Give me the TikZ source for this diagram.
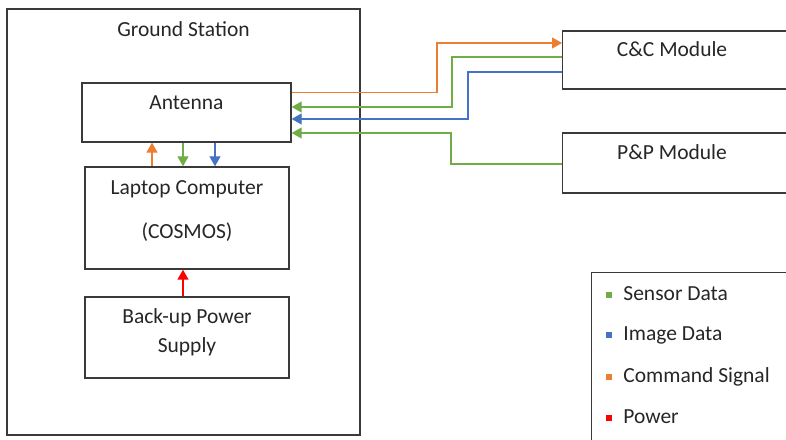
\documentclass[tikz,border=0pt]{standalone}
\usepackage{fontspec}
\setmainfont{Carlito}
\usetikzlibrary{positioning, arrows.meta}
\definecolor{sensorgreen}{HTML}{70AD47}
\definecolor{imageblue}{HTML}{4472C4}
\definecolor{cmdorange}{HTML}{ED7D31}
\definecolor{powerred}{HTML}{FF0000}
\definecolor{boxgray}{HTML}{3A3A3A}

\tikzset{
  block/.style={draw=boxgray, line width=0.65pt, rectangle, inner sep=0pt},
  lbl/.style={font=\fontsize{10.75}{12.9}\selectfont, text=black!85, anchor=base, inner sep=0pt},
  keylbl/.style={lbl, anchor=base west},
  keybox/.style={rectangle, inner sep=0pt, minimum size=3.1pt},
  link/.style={line width=0.6pt, >={Triangle[length=5pt,width=5.5pt]}}
}

\begin{document}
\begin{tikzpicture}[x=0.5pt,y=-0.5pt]
    \useasboundingbox (0,0) rectangle (786,439);
    \clip (0,0) rectangle (786,439);
    % Add the blocks
    \node[block,
          minimum width=176.5pt,
          minimum height=213pt
          ] (gs) at (183.5,222) {};
    \node[block,
          minimum width=104.5pt,
          minimum height=29.5pt
          ] (ant) at (186.5,112.5) {};
    \node[block,
          minimum width=102pt,
          minimum height=51pt
          ] (pc) at (187,218) {};
    \node[block,
          minimum width=102pt,
          minimum height=40.5pt
          ] (ups) at (187,337.5) {};
    \node[block,
          anchor=west,
          minimum width=130pt,
          minimum height=29pt
          ] (cc) at (562,60) {};
    \node[block,
          anchor=west,
          minimum width=130pt,
          minimum height=30pt
          ] (pp) at (562,163) {};
    \node[block,
          anchor=north west,
          minimum width=110pt,
          minimum height=100pt
          ] (legend) at (591,272) {};

    % Add the labels
    \node[lbl] (gslbl) at ([yshift=-14.15pt]gs.north) {Ground Station};
    \node[lbl] (antlbl) at ([yshift=-13.5pt]ant.north) {Antenna};
    \node[lbl] (pclbl) at ([yshift=-14pt]pc.north) {Laptop Computer};
    \node[lbl] (pclbl2) at ([yshift=-36pt]pc.north) {(COSMOS)};
    \node[lbl] (upslbl) at ([yshift=-13.5pt]ups.north) {Back-up Power};
    \node[lbl] (upslbl2) at ([yshift=-28pt]ups.north) {Supply};
    \node[lbl] (cclbl) at ([xshift=55pt,yshift=-13pt]cc.north west) {C\&C Module};
    \node[lbl] (pplbl) at ([xshift=55pt,yshift=-13.5pt]pp.north west) {P\&P Module};

    % Legend
    \node[keybox, fill=sensorgreen] (k1) at (609,295) {};
    \node[keylbl] (k1lbl) at (623,300) {Sensor Data};
    \node[keybox, fill=imageblue] (k2) at (609,335) {};
    \node[keylbl] (k2lbl) at (623,340) {Image Data};
    \node[keybox, fill=cmdorange] (k3) at (609,377) {};
    \node[keylbl] (k3lbl) at (623,382) {Command Signal};
    \node[keybox, fill=powerred] (k4) at (609,418) {};
    \node[keylbl] (k4lbl) at (623,423) {Power};

    % Ends of the radio links
    \coordinate (a1) at ([yshift=9.9pt]ant.east);
    \coordinate (a2) at ([yshift=2.75pt]ant.east);
    \coordinate (a3) at ([yshift=-3.25pt]ant.east);
    \coordinate (a4) at ([yshift=-10.25pt]ant.east);
    \coordinate (c1) at ([yshift=8.5pt]cc.west);
    \coordinate (c2) at ([yshift=1.5pt]cc.west);
    \coordinate (c3) at ([yshift=-6pt]cc.west);
    \coordinate (p1) at ([yshift=-0.5pt]pp.west);

    \draw[link, ->, draw=cmdorange]
        (a1) -- (a1 -| 437,0) |- (c1);
    \draw[link, ->, draw=sensorgreen]
        (c2) -- (c2 -| 452,0) |- (a2);
    \draw[link, ->, draw=imageblue]
        (c3) -- (c3 -| 468,0) |- (a3);
    \draw[link, ->, draw=sensorgreen]
        (p1) -- (p1 -| 451,0) |- (a4);

    % Inside the ground station
    \draw[link, ->, draw=cmdorange]
        (pc.north -| 152,0) -- (ant.south -| 152,0);
    \draw[link, ->, draw=sensorgreen]
        (ant.south -| 183,0) -- (pc.north -| 183,0);
    \draw[link, ->, draw=imageblue]
        (ant.south -| 215,0) -- (pc.north -| 215,0);
    \draw[link, ->, draw=powerred]
        (ups.north -| 183,0) -- (pc.south -| 183,0);
\end{tikzpicture}
\end{document}
